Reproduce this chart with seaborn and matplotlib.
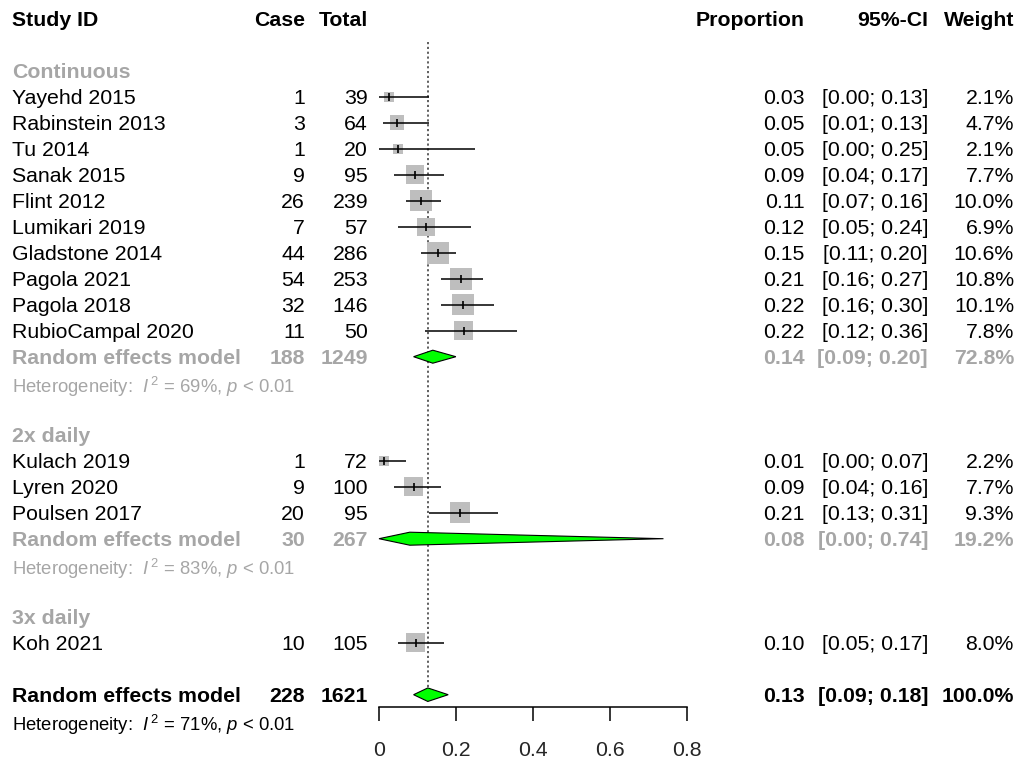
import numpy as np
import pandas as pd
import matplotlib
matplotlib.use("Agg")
import matplotlib.pyplot as plt
import seaborn as sns

# ---------------- data ----------------
group_names = ["Continuous", "2x daily", "3x daily"]
study = ["Yayehd 2015", "Rabinstein 2013", "Tu 2014", "Sanak 2015", "Flint 2012",
         "Lumikari 2019", "Gladstone 2014", "Pagola 2021", "Pagola 2018", "RubioCampal 2020",
         "Kulach 2019", "Lyren 2020", "Poulsen 2017",
         "Koh 2021"]
group = ["Continuous"] * 10 + ["2x daily"] * 3 + ["3x daily"]
cases = [1, 3, 1, 9, 26, 7, 44, 54, 32, 11, 1, 9, 20, 10]
totals = [39, 64, 20, 95, 239, 57, 286, 253, 146, 50, 72, 100, 95, 105]
prop = [0.026, 0.047, 0.05, 0.094, 0.109, 0.123, 0.154, 0.213, 0.219, 0.22,
        0.014, 0.09, 0.211, 0.096]
ci_low = [0.00, 0.01, 0.00, 0.04, 0.07, 0.05, 0.11, 0.16, 0.16, 0.12, 0.00, 0.04, 0.13, 0.05]
ci_high = [0.13, 0.13, 0.25, 0.17, 0.16, 0.24, 0.20, 0.27, 0.30, 0.36, 0.07, 0.16, 0.31, 0.17]
weight = [2.1, 4.7, 2.1, 7.7, 10.0, 6.9, 10.6, 10.8, 10.1, 7.8, 2.2, 7.7, 9.3, 8.0]

# subgroup random-effects results (groups with more than one study)
sub_groups = ["Continuous", "2x daily"]
sub_cases = [188, 30]
sub_totals = [1249, 267]
sub_prop = [0.14, 0.08]
sub_low = [0.09, 0.00]
sub_high = [0.20, 0.74]
sub_weight = [72.8, 19.2]
sub_i2 = [69, 83]

# overall
all_cases, all_total = 228, 1621
all_prop, all_low, all_high, all_weight, all_i2 = 0.127, 0.09, 0.18, 100.0, 71

ticks = [0, 0.2, 0.4, 0.6, 0.8]

# ---------------- style ----------------
sns.set_style("white")
plt.rcParams["font.family"] = ["Liberation Sans", "DejaVu Sans"]
plt.rcParams["mathtext.fontset"] = "custom"
plt.rcParams["mathtext.rm"] = "Liberation Sans"
plt.rcParams["mathtext.it"] = "Liberation Sans:italic"
plt.rcParams["mathtext.bf"] = "Liberation Sans:bold"

GRAY_TXT = "#A6A6A6"
SQ_COLOR = "#BEBEBE"
FS = 15.35
FS_HET = 13.3

W, H = 1021, 761
fig = plt.figure(figsize=(W / 100, H / 100), dpi=100)
ax = fig.add_axes([0, 0, 1, 1])

X0, SCALE = 379.0, 384.4      # pixel of proportion 0, pixels per unit
Y0, STEP = 18.7, 26.0         # pixel of row 0 centre, pixels per row


def px(p):
    return (p - X0) / SCALE


ax.set_xlim(px(0), px(W))
ax.set_ylim((H - Y0) / STEP, -Y0 / STEP)

# column anchors (x in data units)
X_STUDY = px(12)
X_CASE = px(305)
X_TOTAL = px(368)
X_PROP = px(805)
X_CI = px(928)
X_W = px(1014)

BASE = 7.4 / STEP          # baseline offset for main text
BASE_HET = 10.3 / STEP


def row_text(row, cols, color="black", weight="normal"):
    xs = [X_STUDY, X_CASE, X_TOTAL, X_PROP, X_CI, X_W]
    has = ["left", "right", "right", "right", "right", "right"]
    for x, ha, s in zip(xs, has, cols):
        if s is None:
            continue
        ax.text(x, row + BASE, s, ha=ha, va="baseline", fontsize=FS,
                color=color, fontweight=weight)


def het_text(row, i2, color):
    ax.text(X_STUDY, row + BASE_HET,
            r"Heterogeneity:  $I^{\,2}$ = " + f"{i2}%, " + r"$p$ < 0.01",
            ha="left", va="baseline", fontsize=FS_HET, color=color)


def diamond(row, est, lo, hi, half=0.25):
    ax.fill([lo, est, hi, est], [row, row - half, row, row + half],
            facecolor="#00FF00", edgecolor="black", linewidth=0.8, zorder=4)


# header
row_text(0, ["Study ID", "Case", "Total", "Proportion", "95%-CI", "Weight"], weight="bold")

df = pd.DataFrame({"study": study, "group": group, "cases": cases, "total": totals,
                   "prop": prop, "lo": ci_low, "hi": ci_high, "w": weight})

rows = []
r = 2
for g in group_names:
    ax.text(X_STUDY, r + BASE, g, ha="left", va="baseline", fontsize=FS,
            color=GRAY_TXT, fontweight="bold")
    r += 1
    sub = df[df["group"] == g]
    for _, d in sub.iterrows():
        rows.append(r)
        row_text(r, [d["study"], f"{d['cases']}", f"{d['total']}", f"{d['prop']:.2f}",
                     f"[{d['lo']:.2f}; {d['hi']:.2f}]", f"{d['w']:.1f}%"])
        r += 1
    if g in sub_groups:
        k = sub_groups.index(g)
        row_text(r, ["Random effects model", f"{sub_cases[k]}", f"{sub_totals[k]}",
                     f"{sub_prop[k]:.2f}", f"[{sub_low[k]:.2f}; {sub_high[k]:.2f}]",
                     f"{sub_weight[k]:.1f}%"], color=GRAY_TXT, weight="bold")
        diamond(r, sub_prop[k], sub_low[k], sub_high[k])
        het_text(r + 1, sub_i2[k], GRAY_TXT)
        r += 2
    r += 1

df["row"] = rows
overall_row = rows[-1] + 2
row_text(overall_row, ["Random effects model", f"{all_cases}", f"{all_total}",
                       f"{all_prop:.2f}", f"[{all_low:.2f}; {all_high:.2f}]",
                       f"{all_weight:.1f}%"], weight="bold")
diamond(overall_row, all_prop, all_low, all_high, half=0.26)
het_text(overall_row + 1, all_i2, "black")

# squares (area proportional to weight)
size_map = {w: (6.75 * np.sqrt(w) * 0.72) ** 2 for w in df["w"].unique()}
sns.scatterplot(data=df, x="prop", y="row", size="w", sizes=size_map, marker="s",
                color=SQ_COLOR, edgecolor="none", legend=False, ax=ax, zorder=1)
# confidence intervals
ax.hlines(df["row"], df["lo"], df["hi"], color="black", linewidth=1.1, zorder=2)
# point estimates
ax.scatter(df["prop"], df["row"], marker="|", s=36, color="black", linewidths=1.2, zorder=3)

# reference line at overall estimate
ax.vlines(all_prop, 0.9, overall_row - 0.26, colors="#444444", linewidth=1.2,
          linestyles=(0, (1.3, 1.6)), zorder=0)

# x axis
axis_row = (707 - Y0) / STEP
for s in ["top", "right", "left"]:
    ax.spines[s].set_visible(False)
ax.spines["bottom"].set_position(("data", axis_row))
ax.spines["bottom"].set_bounds(0, 0.8)
ax.spines["bottom"].set_linewidth(1.1)
ax.spines["bottom"].set_color("black")
ax.set_xticks(ticks)
ax.set_xticklabels([f"{t:g}" for t in ticks])
ax.tick_params(axis="x", direction="out", length=9.9, width=1.1, color="black",
               labelsize=FS, pad=14.5, bottom=True)
ax.set_yticks([])
ax.set_xlabel("")
ax.set_ylabel("")

fig.savefig("out.png", dpi=100)
